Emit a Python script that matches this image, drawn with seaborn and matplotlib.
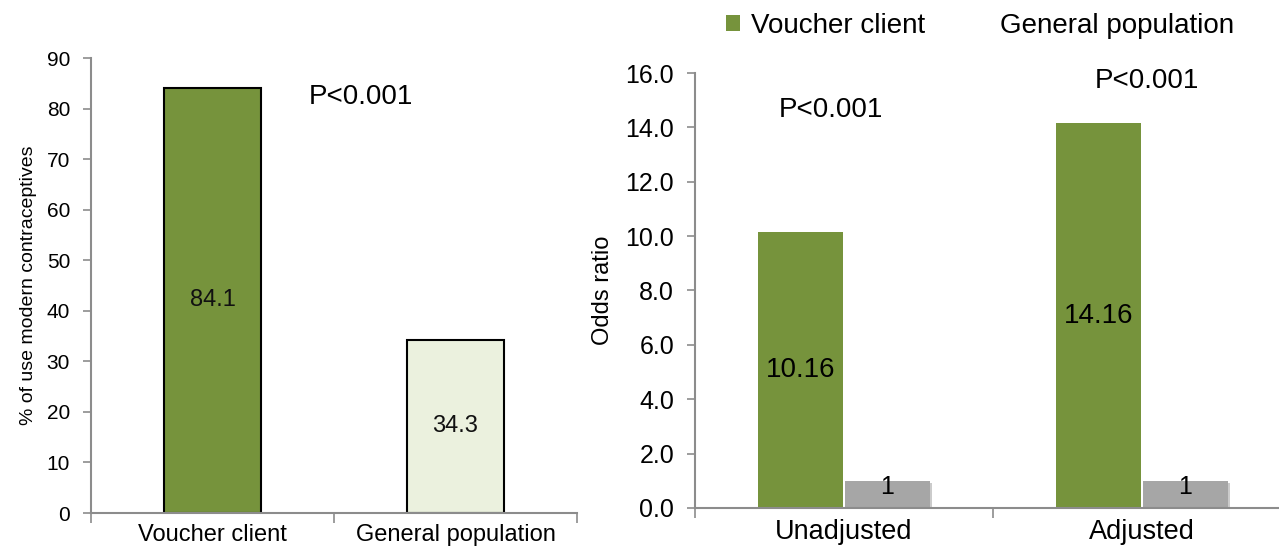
import matplotlib
matplotlib.use("Agg")
import matplotlib.pyplot as plt
import matplotlib.patheffects as pe
from matplotlib.patches import Patch
import seaborn as sns
import pandas as pd

# data
grupos = ["Voucher client", "General population"]
uso_moderno = [84.1, 34.3]

ajustes = ["Unadjusted", "Adjusted"]
odds_voucher = [10.16, 14.16]
odds_general = [1, 1]

VERDE = "#76933C"
VERDE_CLARO = "#EBF1DE"
GRIS = "#A6A6A6"
EJE = "#8C8C8C"

sns.set_theme(style="white")
plt.rcParams["font.family"] = ["Liberation Sans", "DejaVu Sans"]
plt.rcParams["text.color"] = "black"
plt.rcParams["axes.labelcolor"] = "black"
plt.rcParams["xtick.color"] = "black"
plt.rcParams["ytick.color"] = "black"

fig = plt.figure(figsize=(12.79, 5.46), dpi=100)

def estilo_ejes(ax):
    for lado in ["top", "right"]:
        ax.spines[lado].set_visible(False)
    for lado in ["left", "bottom"]:
        ax.spines[lado].set_color(EJE)
        ax.spines[lado].set_linewidth(1.5)
    ax.tick_params(axis="y", which="major", left=True, length=6, width=1.2, color=EJE,
                   labelcolor="black", direction="out", pad=9)
    ax.tick_params(axis="x", which="major", bottom=True, length=0, pad=10, labelcolor="black")
    ax.set_xticks([-0.5, 0.5, 1.5], minor=True)
    ax.tick_params(axis="x", which="minor", bottom=True, length=7, width=1.2, color=EJE, direction="out")
    ax.set_xlim(-0.5, 1.5)

# panel izquierdo
ax1 = fig.add_axes([0.0711, 0.0604, 0.380, 0.8333])
df1 = pd.DataFrame({"grupo": grupos, "uso": uso_moderno})
sns.barplot(data=df1, x="grupo", y="uso", hue="grupo", palette=[VERDE, VERDE_CLARO],
            saturation=1, width=0.4, edgecolor="black", linewidth=1.5, legend=False, ax=ax1)
ax1.set_ylim(0, 90)
ax1.set_yticks(range(0, 91, 10))
estilo_ejes(ax1)
ax1.tick_params(axis="y", labelsize=15)
ax1.tick_params(axis="x", labelsize=17, pad=8)
ax1.set_xlabel("")
ax1.set_ylabel("% of use modern contraceptives", fontsize=14, labelpad=7)
for i, v in enumerate(uso_moderno):
    ax1.text(i, v / 2, f"{v}", ha="center", va="center", fontsize=17, color="#111111")
ax1.text(0.61, 82.2, "P<0.001", ha="center", va="center", fontsize=20, color="black")

# panel derecho
ax2 = fig.add_axes([0.5434, 0.0696, 0.466, 0.7967])
df2 = pd.DataFrame({
    "ajuste": ajustes * 2,
    "serie": ["Voucher client"] * 2 + ["General population"] * 2,
    "odds": odds_voucher + odds_general,
})
sns.barplot(data=df2, x="ajuste", y="odds", hue="serie", palette=[VERDE, GRIS],
            saturation=1, width=0.58, gap=0.02, linewidth=0, legend=False, ax=ax2)
for barra in ax2.patches[2:4]:
    barra.set_path_effects([pe.SimplePatchShadow(offset=(1.5, -1.5), alpha=0.25), pe.Normal()])
ax2.set_ylim(0, 16)
ax2.set_yticks([0, 2, 4, 6, 8, 10, 12, 14, 16])
ax2.set_yticklabels([f"{t:.1f}" for t in ax2.get_yticks()])
estilo_ejes(ax2)
ax2.tick_params(axis="y", labelsize=18)
ax2.tick_params(axis="x", labelsize=19.5, pad=8)
ax2.set_xlabel("")
ax2.set_ylabel("Odds ratio", fontsize=17, labelpad=8)

for i, v in enumerate(odds_voucher):
    ax2.text(i - 0.145, v / 2, f"{v:.2f}", ha="center", va="center", fontsize=20, color="black")
for i, v in enumerate(odds_general):
    ax2.text(i + 0.145, v * 0.78, f"{v}", ha="center", va="center", fontsize=18, color="black")

ax2.text(-0.044, 14.64, "P<0.001", ha="center", va="center", fontsize=20, color="black")
ax2.text(1.017, 15.7, "P<0.001", ha="center", va="center", fontsize=20, color="black")

handles = [Patch(facecolor=VERDE, edgecolor="none"), Patch(facecolor="white", edgecolor="none")]
fig.legend(handles, ["Voucher client", "General population"], loc="center left",
           bbox_to_anchor=(0.548, 0.952), ncol=2, frameon=False, fontsize=20,
           handlelength=0.5, handleheight=0.5, handletextpad=0.4, columnspacing=1.8)

fig.savefig("out.png", dpi=100)
